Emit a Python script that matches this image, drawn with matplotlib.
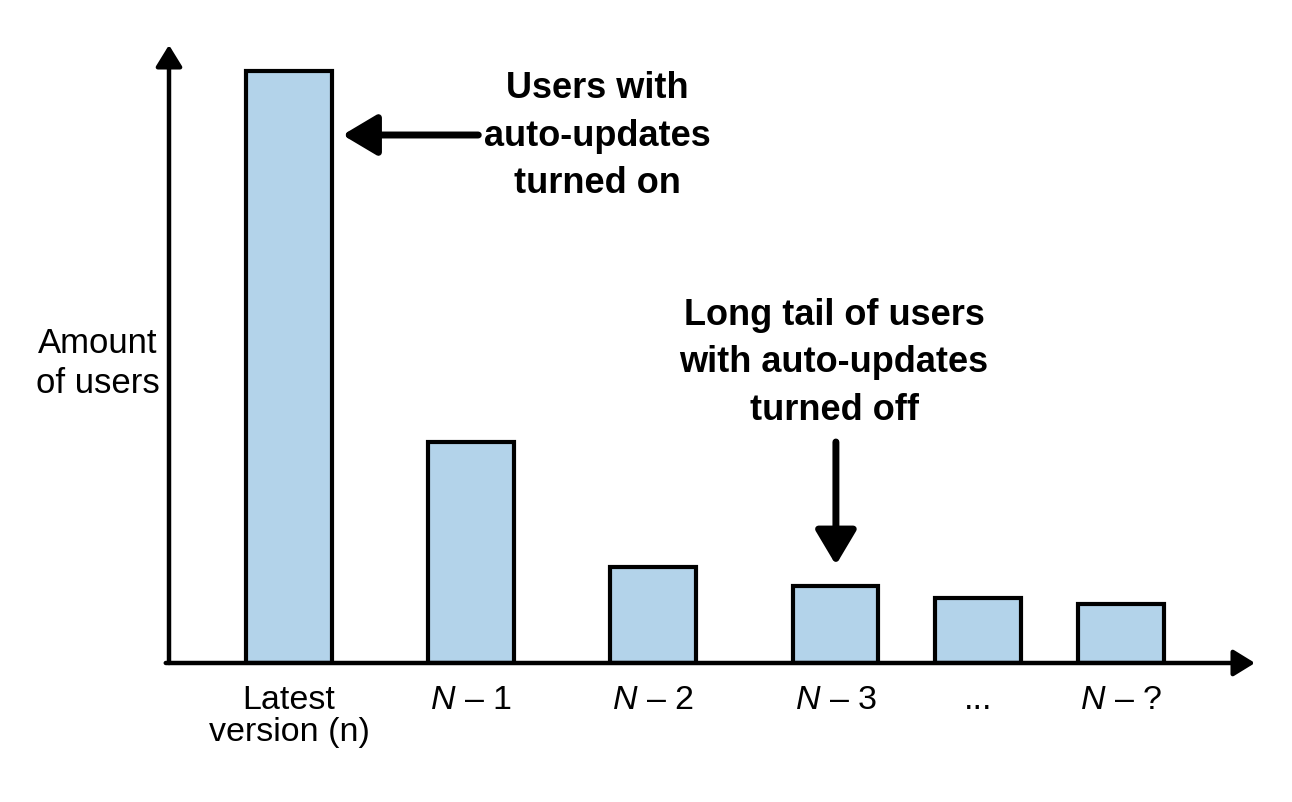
import matplotlib.pyplot as plt

plt.rcParams['font.family'] = ['Liberation Sans', 'DejaVu Sans']
plt.rcParams['mathtext.fontset'] = 'custom'
plt.rcParams['mathtext.it'] = 'Liberation Sans:italic'
plt.rcParams['mathtext.rm'] = 'Liberation Sans'

# versions on the x axis and relative amount of users per version
versions = ["Latest\nversion (n)", r"$\mathit{N}$ – 1", r"$\mathit{N}$ – 2",
            r"$\mathit{N}$ – 3", "...", r"$\mathit{N}$ – ?"]
users = [592, 221, 96, 77, 65, 59]

# the tail bars sit closer together
xpos = [0, 1, 2, 3.005, 3.786, 4.571]

bar_color = '#b3d3ea'
bar_width = 0.468

fig = plt.figure(figsize=(12.92, 8.02), dpi=100)
W, H = 1292., 802.
ax = fig.add_axes([169 / W, (H - 663) / H, (1255 - 169) / W, (663 - 45) / H])
ax.set_xlim((169 - 289) / 182., (1255 - 289) / 182.)
ax.set_ylim(0, 618)

ax.bar(xpos, users, bar_width, color=bar_color, edgecolor='black', linewidth=3, zorder=2)

for s in ax.spines.values():
    s.set_visible(False)
ax.set_yticks([])
ax.set_xticks(xpos, versions)
ax.tick_params(axis='x', length=0, pad=16, labelsize=24.5)
for lbl in ax.get_xticklabels():
    lbl.set_linespacing(1.02)

# axes with arrow heads
axis_arrow = dict(arrowstyle='-|>,head_length=13,head_width=8', mutation_scale=1,
                  lw=3.2, color='black', shrinkA=0, shrinkB=0)
ax.annotate('', xy=(1, 0), xytext=(-0.003, 0), xycoords='axes fraction',
            arrowprops=axis_arrow, annotation_clip=False, zorder=3)
ax.annotate('', xy=(0, 1), xytext=(0, 0), xycoords='axes fraction',
            arrowprops=axis_arrow, annotation_clip=False, zorder=3)

ax.text(-0.0653, 0.485, "Amount\nof users", transform=ax.transAxes, fontsize=25,
        ha='center', va='center', linespacing=1.28)

# callouts
big_arrow = dict(arrowstyle='-|>,head_length=21,head_width=12.5', mutation_scale=1,
                 lw=5, color='black', shrinkA=0, shrinkB=0)

tip1 = xpos[0] + bar_width / 2 + 0.06
ax.annotate('', xy=(tip1, 528), xytext=(1.04, 528), arrowprops=big_arrow)
ax.text(1.692, 527, "Users with\nauto-updates\nturned on", fontsize=26, fontweight='bold',
        ha='center', va='center', linespacing=1.45)

ax.annotate('', xy=(xpos[3], users[3] + 21), xytext=(xpos[3], 221), arrowprops=big_arrow)
ax.text(2.995, 300, "Long tail of users\nwith auto-updates\nturned off", fontsize=26,
        fontweight='bold', ha='center', va='center', linespacing=1.45)

fig.savefig("out.png", dpi=100)
